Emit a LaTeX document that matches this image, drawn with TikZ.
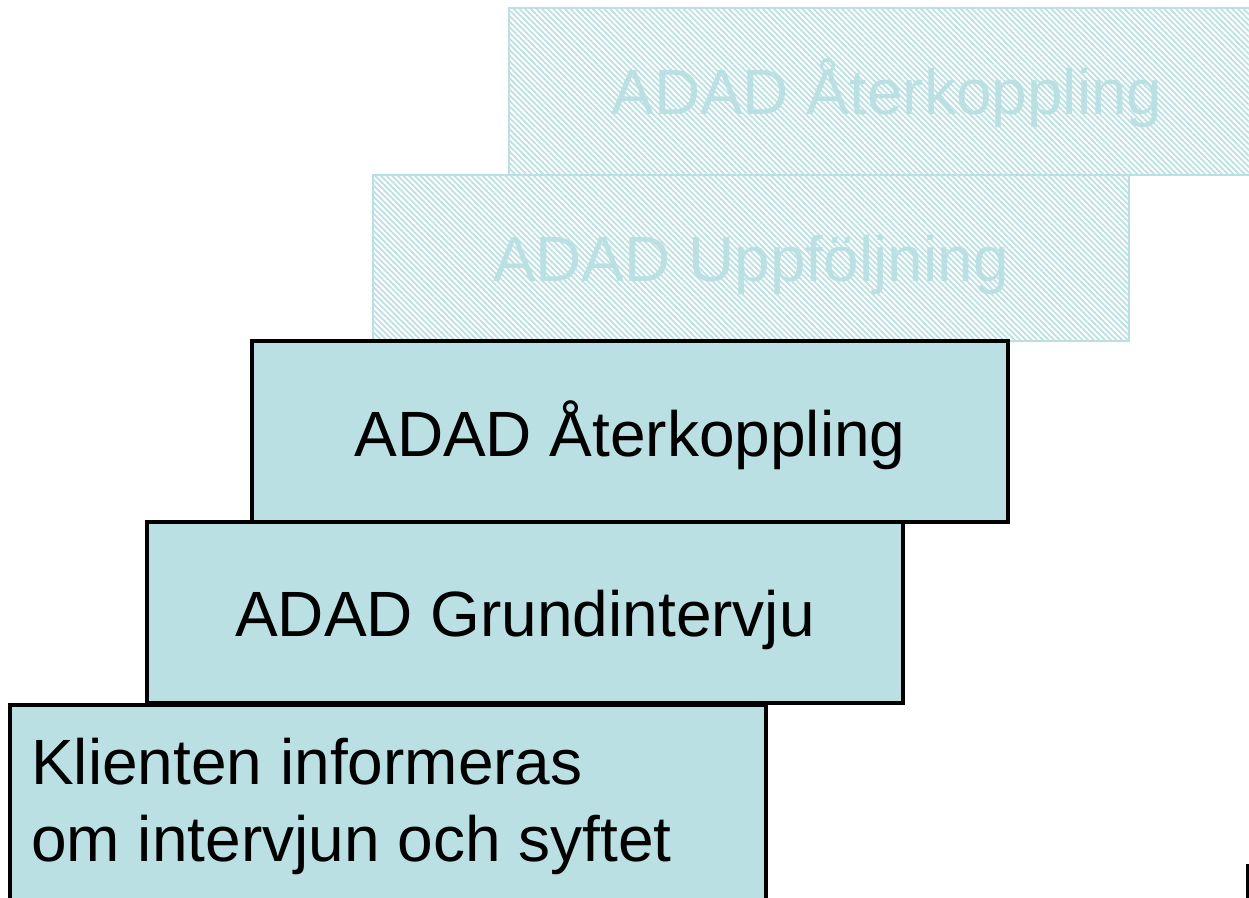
\documentclass[tikz,border=0pt]{standalone}
\usepackage{fontspec}
\setmainfont{Liberation Sans}
\usetikzlibrary{patterns.meta}
\definecolor{boxfill}{HTML}{BBE0E3}
\begin{document}
\begin{tikzpicture}[x=0.75pt,y=-0.75pt,
  solidbox/.style={fill=boxfill,draw=black,line width=3.6pt},
  ghostbox/.style={pattern={Lines[angle=-45,distance=3pt,line width=1.3pt]},pattern color=boxfill,draw=boxfill,line width=1.3pt},
  label/.style={anchor=base,inner sep=0pt,font=\fontsize{48}{57}\selectfont},
  ghostlabel/.style={label,text=boxfill}]
\useasboundingbox (0,0) rectangle (1249,898);
\begin{scope}
\clip (0,0) rectangle (1249,898);
% ghost boxes
\path[ghostbox] (509,8) rectangle (1265,175);
\node[ghostlabel] (g1) at (887,115) {ADAD Återkoppling};
\path[ghostbox] (373,175) rectangle (1129,341);
\node[ghostlabel] (g2) at (751,282) {ADAD Uppföljning};
% solid boxes
\path[solidbox] (252,341) rectangle (1008,522);
\node[label] (s3) at (630,456) {ADAD Återkoppling};
\path[solidbox] (147,522) rectangle (903,703);
\node[label] (s2) at (525,636) {ADAD Grundintervju};
\path[solidbox] (10,705) rectangle (766,910);
\node[label,anchor=base west,align=left] (s1) at (31,784) {Klienten informeras};
\node[label,anchor=base west,align=left] (s1b) at (31,861) {om intervjun och syftet};
\fill[black] (1246,864) rectangle (1249,898);
\end{scope}
\end{tikzpicture}
\end{document}
